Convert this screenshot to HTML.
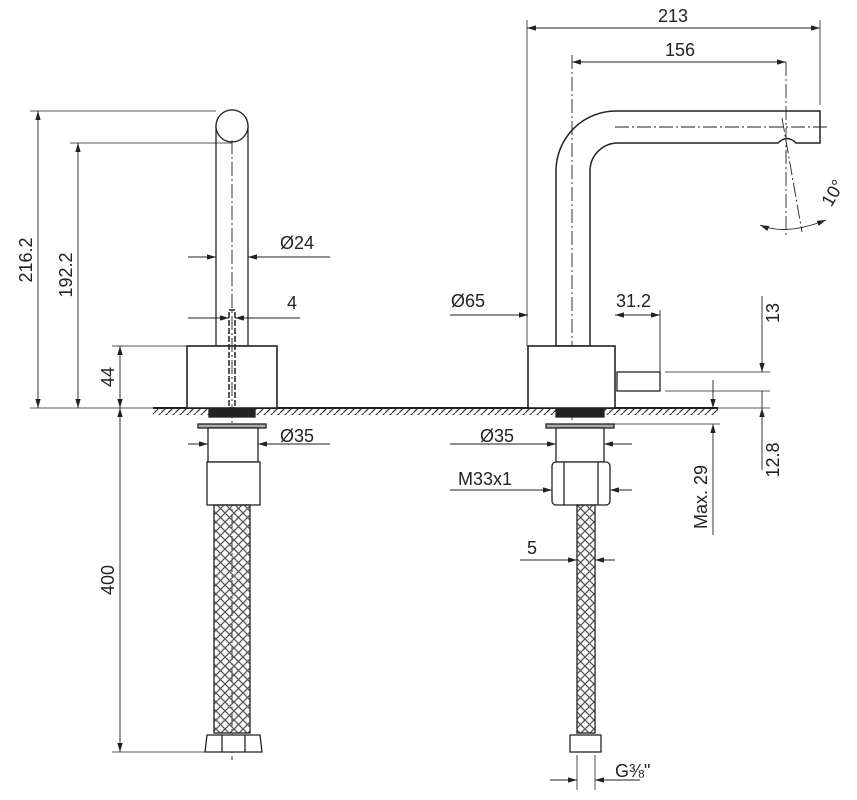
<!DOCTYPE html>
<html><head><style>body{margin:0;background:#fff}svg{display:block}</style></head><body>
<svg width="857" height="800" viewBox="0 0 857 800" xmlns="http://www.w3.org/2000/svg" font-family="Liberation Sans, sans-serif" font-size="18" fill="none" stroke="#222" stroke-width="1.3">
<defs>
<marker id="a" markerWidth="10" markerHeight="6" refX="10" refY="3" orient="auto-start-reverse"><path d="M0,0 L10,3 L0,6z" fill="#222" stroke="none"/></marker>
<pattern id="h" width="7" height="7" patternUnits="userSpaceOnUse"><path d="M0,7 L7,0" stroke="#333" stroke-width="1.2"/></pattern>
<pattern id="br" width="9" height="9" patternUnits="userSpaceOnUse"><path d="M0,0 L9,9 M0,9 L9,0" stroke="#555" stroke-width="1.3"/></pattern>
</defs>
<rect x="153" y="409" width="565" height="6" fill="url(#h)" stroke="none"/>
<line x1="153" y1="408" x2="718" y2="408" stroke-width="2"/>
<!-- LEFT faucet -->
<path d="M216,126 A16,16 0 0 1 248,126 L248,346 L216,346 Z" fill="#fff"/>
<circle cx="232" cy="126" r="16" fill="#fff"/>
<rect x="187" y="346" width="90" height="62" fill="#fff" stroke-width="1.6"/>
<line x1="232" y1="140" x2="232" y2="760" stroke-dasharray="14,3,2,3" stroke-width="0.9"/>
<rect x="229" y="310" width="6" height="98" fill="none" stroke-dasharray="6,2" stroke-width="1.5"/>
<rect x="209" y="409" width="46" height="8" fill="#222"/>
<rect x="198" y="424" width="68" height="4" fill="#aaa"/>
<rect x="208" y="428" width="50" height="34" fill="#fff"/>
<rect x="207" y="462" width="53" height="43" fill="#fff"/>
<rect x="214" y="505" width="36" height="228" fill="url(#br)"/>
<path d="M205,752 L207,735 L260,735 L262,752 Z" fill="#fff"/>
<line x1="222" y1="735" x2="222" y2="752"/><line x1="245" y1="735" x2="245" y2="752"/>
<line x1="30" y1="111" x2="216" y2="111" stroke-width="0.8"/>
<line x1="70" y1="143" x2="232" y2="143" stroke-width="0.8"/>
<line x1="30" y1="408" x2="153" y2="408" stroke-width="0.8"/>
<line x1="112" y1="346" x2="187" y2="346" stroke-width="0.8"/>
<line x1="112" y1="752" x2="205" y2="752" stroke-width="0.8"/>
<line x1="38" y1="111" x2="38" y2="408" marker-start="url(#a)" marker-end="url(#a)" stroke-width="0.9"/>
<line x1="78" y1="143" x2="78" y2="408" marker-start="url(#a)" marker-end="url(#a)" stroke-width="0.9"/>
<line x1="120" y1="346" x2="120" y2="408" marker-start="url(#a)" marker-end="url(#a)" stroke-width="0.9"/>
<line x1="120" y1="408" x2="120" y2="752" marker-start="url(#a)" marker-end="url(#a)" stroke-width="0.9"/>
<line x1="188" y1="257" x2="216" y2="257" marker-end="url(#a)" stroke-width="0.9"/>
<line x1="330" y1="257" x2="248" y2="257" marker-end="url(#a)" stroke-width="0.9"/>
<line x1="188" y1="318" x2="229" y2="318" marker-end="url(#a)" stroke-width="0.9"/>
<line x1="300" y1="318" x2="235" y2="318" marker-end="url(#a)" stroke-width="0.9"/>
<line x1="188" y1="444" x2="208" y2="444" marker-end="url(#a)" stroke-width="0.9"/>
<line x1="330" y1="444" x2="258" y2="444" marker-end="url(#a)" stroke-width="0.9"/>
<g fill="#222" stroke="none">
<text x="280" y="249">Ø24</text><text x="287" y="309">4</text><text x="280" y="442">Ø35</text>
<text transform="translate(32,260) rotate(-90)" text-anchor="middle">216.2</text>
<text transform="translate(72,275) rotate(-90)" text-anchor="middle">192.2</text>
<text transform="translate(114,377) rotate(-90)" text-anchor="middle">44</text>
<text transform="translate(114,580) rotate(-90)" text-anchor="middle">400</text>
</g>
<!-- RIGHT faucet -->
<path d="M556,346 L556,171 A60,60 0 0 1 616,111 L820,111 L820,143 L796,143 Q787,134 778,143 L618,143 A28,28 0 0 0 590,171 L590,346 Z" fill="#fff" stroke-width="1.5"/>
<line x1="572" y1="55" x2="572" y2="420" stroke-dasharray="14,3,2,3" stroke-width="0.9"/>
<line x1="615" y1="127" x2="830" y2="127" stroke-dasharray="14,3,2,3" stroke-width="0.9"/>
<line x1="786" y1="62" x2="786" y2="235" stroke-dasharray="14,3,2,3" stroke-width="0.9"/>
<line x1="782" y1="118" x2="802" y2="232" stroke-dasharray="14,3,2,3" stroke-width="0.9"/>
<path d="M760,225 Q786,236 826,220" stroke-width="0.9" marker-start="url(#a)" marker-end="url(#a)"/>
<rect x="528" y="346" width="87" height="62" fill="#fff" stroke-width="1.6"/>
<rect x="617" y="372" width="43" height="19" fill="#fff"/>
<line x1="660" y1="310" x2="660" y2="372" stroke-width="0.9"/>
<rect x="556" y="409" width="48" height="8" fill="#222"/>
<rect x="546" y="424" width="68" height="4" fill="#aaa"/>
<rect x="556" y="428" width="48" height="34" fill="#fff"/>
<rect x="552" y="462" width="58" height="43" rx="4" fill="#fff"/>
<line x1="564" y1="462" x2="564" y2="505"/><line x1="598" y1="462" x2="598" y2="505"/>
<rect x="577" y="505" width="18" height="228" fill="url(#br)"/>
<rect x="570" y="735" width="31" height="17" fill="#fff"/>
<line x1="527" y1="20" x2="527" y2="346" stroke-width="0.8"/>
<line x1="820" y1="20" x2="820" y2="105" stroke-width="0.8"/>
<line x1="527" y1="28" x2="820" y2="28" marker-start="url(#a)" marker-end="url(#a)" stroke-width="0.9"/>
<line x1="572" y1="62" x2="786" y2="62" marker-start="url(#a)" marker-end="url(#a)" stroke-width="0.9"/>
<line x1="450" y1="315" x2="528" y2="315" marker-end="url(#a)" stroke-width="0.9"/>
<line x1="615" y1="315" x2="660" y2="315" marker-start="url(#a)" marker-end="url(#a)" stroke-width="0.9"/>
<line x1="665" y1="372" x2="770" y2="372" stroke-width="0.8"/>
<line x1="665" y1="391" x2="770" y2="391" stroke-width="0.8"/>
<line x1="700" y1="408" x2="770" y2="408" stroke-width="0.8"/>
<line x1="614" y1="424" x2="720" y2="424" stroke-width="0.8"/>
<line x1="762" y1="296" x2="762" y2="372" marker-end="url(#a)" stroke-width="0.9"/>
<line x1="762" y1="391" x2="762" y2="408" stroke-width="0.9"/>
<line x1="762" y1="470" x2="762" y2="408" marker-end="url(#a)" stroke-width="0.9"/>
<line x1="713" y1="380" x2="713" y2="408" marker-end="url(#a)" stroke-width="0.9"/>
<line x1="713" y1="535" x2="713" y2="424" marker-end="url(#a)" stroke-width="0.9"/>
<line x1="450" y1="444" x2="556" y2="444" marker-end="url(#a)" stroke-width="0.9"/>
<line x1="632" y1="444" x2="604" y2="444" marker-end="url(#a)" stroke-width="0.9"/>
<line x1="450" y1="490" x2="552" y2="490" marker-end="url(#a)" stroke-width="0.9"/>
<line x1="632" y1="490" x2="610" y2="490" marker-end="url(#a)" stroke-width="0.9"/>
<line x1="520" y1="560" x2="577" y2="560" marker-end="url(#a)" stroke-width="0.9"/>
<line x1="615" y1="560" x2="595" y2="560" marker-end="url(#a)" stroke-width="0.9"/>
<line x1="577" y1="755" x2="577" y2="790" stroke-width="0.8"/>
<line x1="595" y1="755" x2="595" y2="790" stroke-width="0.8"/>
<line x1="550" y1="780" x2="577" y2="780" marker-end="url(#a)" stroke-width="0.9"/>
<line x1="640" y1="780" x2="595" y2="780" marker-end="url(#a)" stroke-width="0.9"/>
<g fill="#222" stroke="none">
<text x="673" y="22" text-anchor="middle">213</text>
<text x="680" y="56" text-anchor="middle">156</text>
<text x="451" y="307">Ø65</text><text x="616" y="307">31.2</text>
<text x="480" y="442">Ø35</text><text x="458" y="485">M33x1</text>
<text x="527" y="554">5</text><text x="615" y="777">G⅜"</text>
<text transform="translate(838,196) rotate(-60)" text-anchor="middle">10°</text>
<text transform="translate(779,313) rotate(-90)" text-anchor="middle">13</text>
<text transform="translate(779,460) rotate(-90)" text-anchor="middle">12.8</text>
<text transform="translate(707,497) rotate(-90)" text-anchor="middle">Max. 29</text>
</g>
</svg>
</body></html>
